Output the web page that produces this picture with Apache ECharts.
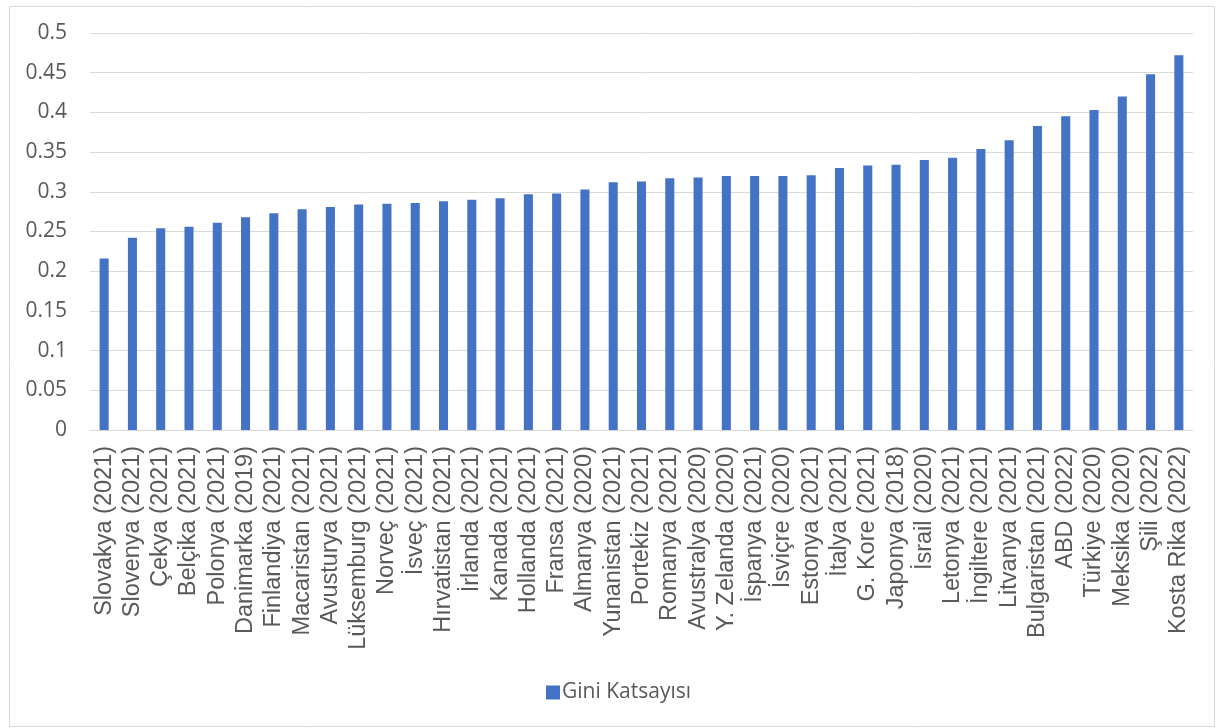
<!DOCTYPE html>
<html>
<head>
<meta charset="utf-8">
<script src="https://cdn.jsdelivr.net/npm/echarts@6/dist/echarts.min.js"></script>
<style>
html,body{margin:0;padding:0;background:#fff;}
#c{width:1219px;height:728px;}
</style>
</head>
<body>
<div id="c"></div>
<script>
var categories = ["Slovakya (2021)","Slovenya (2021)","Çekya (2021)","Belçika (2021)","Polonya (2021)","Danimarka (2019)","Finlandiya (2021)","Macaristan (2021)","Avusturya (2021)","Lüksemburg (2021)","Norveç (2021)","İsveç (2021)","Hırvatistan (2021)","İrlanda (2021)","Kanada (2021)","Hollanda (2021)","Fransa (2021)","Almanya (2020)","Yunanistan (2021)","Portekiz (2021)","Romanya (2021)","Avustralya (2020)","Y. Zelanda (2020)","İspanya (2021)","İsviçre (2020)","Estonya (2021)","İtalya (2021)","G. Kore (2021)","Japonya (2018)","İsrail (2020)","Letonya (2021)","İngiltere (2021)","Litvanya (2021)","Bulgaristan (2021)","ABD (2022)","Türkiye (2020)","Meksika (2020)","Şili (2022)","Kosta Rika (2022)"];
var giniValues = [0.216,0.242,0.254,0.256,0.261,0.268,0.273,0.278,0.281,0.284,0.285,0.286,0.288,0.290,0.292,0.297,0.298,0.303,0.312,0.313,0.317,0.318,0.320,0.320,0.320,0.321,0.330,0.333,0.334,0.340,0.343,0.354,0.365,0.383,0.395,0.403,0.420,0.448,0.472];
var seriesName = "Gini Katsayısı";

var chart = echarts.init(document.getElementById('c'));
chart.setOption({
  animation: false,
  graphic: [{
    type: 'rect', left: 7, top: 4, silent: true,
    shape: {width: 1205, height: 720},
    style: {fill: 'none', stroke: '#d9d9d9', lineWidth: 1}
  }],
  grid: {left: 90, right: 26, top: 33, bottom: 298, containLabel: false},
  legend: {
    top: 682, left: 546, padding: 0,
    itemWidth: 14, itemHeight: 14, itemGap: 4,
    icon: 'rect',
    textStyle: {fontFamily: 'Open Sans', fontSize: 21, color: '#595959', padding: [0,0,0,-3]},
    data: [seriesName]
  },
  xAxis: {
    type: 'category',
    data: categories,
    axisLine: {lineStyle: {color: '#d9d9d9', width: 1}},
    axisTick: {show: false},
    axisLabel: {
      interval: 0, rotate: 90, margin: 16,
      fontFamily: 'Liberation Sans', fontSize: 23.5, color: '#595959'
    }
  },
  yAxis: {
    type: 'value', min: 0, max: 0.5, interval: 0.05,
    axisLine: {show: false}, axisTick: {show: false},
    splitLine: {lineStyle: {color: '#d9d9d9', width: 1}},
    axisLabel: {
      margin: 23,
      fontFamily: 'Open Sans', fontSize: 21, color: '#595959',
      formatter: function(v){ return String(parseFloat(v.toFixed(2))); }
    }
  },
  series: [{
    name: seriesName, type: 'bar', data: giniValues,
    barWidth: '32%',
    itemStyle: {color: '#4472C4'}
  }]
});
</script>
</body>
</html>
